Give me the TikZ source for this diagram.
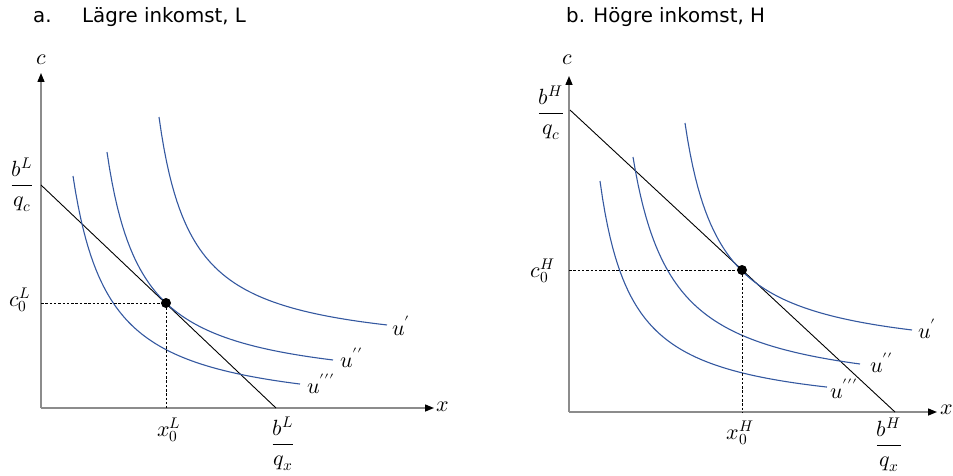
\documentclass[tikz,border=0pt]{standalone}
\usepackage{fontspec}
\usepackage{unicode-math}
\setmathfont{Latin Modern Math}
\newfontfamily\titlefont{DejaVu Sans}
\usetikzlibrary{arrows.meta}
\definecolor{icblue}{RGB}{52,88,160}
\definecolor{axgray}{RGB}{140,140,140}
\begin{document}
\begin{tikzpicture}[x=1pt,y=-1pt,
  axis/.style={draw=axgray, line width=1.4pt, -{Triangle[length=9pt,width=7pt,color=black]}},
  budget/.style={draw=black, line width=0.9pt},
  icurve/.style={draw=icblue, line width=1.1pt, samples=90},
  guide/.style={draw=black, line width=0.8pt, dash pattern=on 2.5pt off 1.8pt},
  mlabel/.style={font=\fontsize{22}{26}\selectfont, inner sep=0pt},
  ulabel/.style={mlabel, anchor=base west},
  titletext/.style={font=\titlefont\fontsize{19.8}{23}\selectfont, anchor=base west, inner sep=0pt},
  dot/.style={circle, fill=black, inner sep=0pt, minimum size=10pt}]
\useasboundingbox (0,0) rectangle (953,476);

% ---------- titles ----------
\node[titletext] (ta) at (33,23) {a.};
\node[titletext] (tat) at (82,23) {Lägre inkomst, L};
\node[titletext] (tb) at (566,23) {b. Högre inkomst, H};

% ---------- panel a ----------
\coordinate (aO) at (41,408);
\coordinate (aYt) at (41,73);
\coordinate (aXt) at (434,408);
\draw[axis] (aO) -- (aYt);
\draw[axis] (aO) -- (aXt);
\node[mlabel] (ac) at (42,60) {$c$};
\node[mlabel] (ax) at (443,407) {$x$};
\coordinate (aB1) at (41,185);
\coordinate (aB2) at (276,408);
\draw[budget] (aB1) -- (aB2);
\draw[icurve] plot[domain=159:387] (\x,{354.7-7749/(\x-126.4)});
\draw[icurve] plot[domain=107:333] (\x,{392-8350/(\x-72.2)});
\draw[icurve] plot[domain=73:300] (\x,{417.2-8731/(\x-36.8)});
\node[dot] (aE) at (166,303) {};
\coordinate (aEy) at (41,303);
\coordinate (aEx) at (166,408);
\draw[guide] (aEy) -- (aE.center);
\draw[guide] (aE.center) -- (aEx);
\node[mlabel] (abqc) at (22,185) {$\displaystyle\frac{b^L}{q_c}$};
\node[mlabel] (ac0) at (20,300) {$c_0^L$};
\node[mlabel] (ax0) at (169,430) {$x_0^L$};
\node[mlabel] (abqx) at (283,444) {$\displaystyle\frac{b^L}{q_x}$};
\node[ulabel] (au1) at (392,335) {$u^{\prime}$};
\node[ulabel] (au2) at (340,367) {$u^{\prime\prime}$};
\node[ulabel] (au3) at (307,393) {$u^{\prime\prime\prime}$};

% ---------- panel b ----------
\coordinate (bO) at (569,412);
\coordinate (bYt) at (569,76);
\coordinate (bXt) at (937,412);
\draw[axis] (bO) -- (bYt);
\draw[axis] (bO) -- (bXt);
\node[mlabel] (bc) at (568,60) {$c$};
\node[mlabel] (bx) at (947,410) {$x$};
\coordinate (bB1) at (570,110);
\coordinate (bB2) at (895,412);
\draw[budget] (bB1) -- (bB2);
\draw[icurve] plot[domain=685:912] (\x,{361.9-8361/(\x-650)});
\draw[icurve] plot[domain=633:860] (\x,{400.2-9655/(\x-593.3)});
\draw[icurve] plot[domain=600:827] (\x,{416.2-7549/(\x-567.9)});
\node[dot] (bE) at (742,270) {};
\coordinate (bEy) at (569,270);
\coordinate (bEx) at (742,412);
\draw[guide] (bEy) -- (bE.center);
\draw[guide] (bE.center) -- (bEx);
\node[mlabel] (bbqc) at (551,113) {$\displaystyle\frac{b^H}{q_c}$};
\node[mlabel] (bc0) at (543,271) {$c_0^H$};
\node[mlabel] (bx0) at (740,433) {$x_0^H$};
\node[mlabel] (bbqx) at (889,445) {$\displaystyle\frac{b^H}{q_x}$};
\node[ulabel] (bu1) at (918,338) {$u^{\prime}$};
\node[ulabel] (bu2) at (870,372) {$u^{\prime\prime}$};
\node[ulabel] (bu3) at (830,398) {$u^{\prime\prime\prime}$};
\end{tikzpicture}
\end{document}
